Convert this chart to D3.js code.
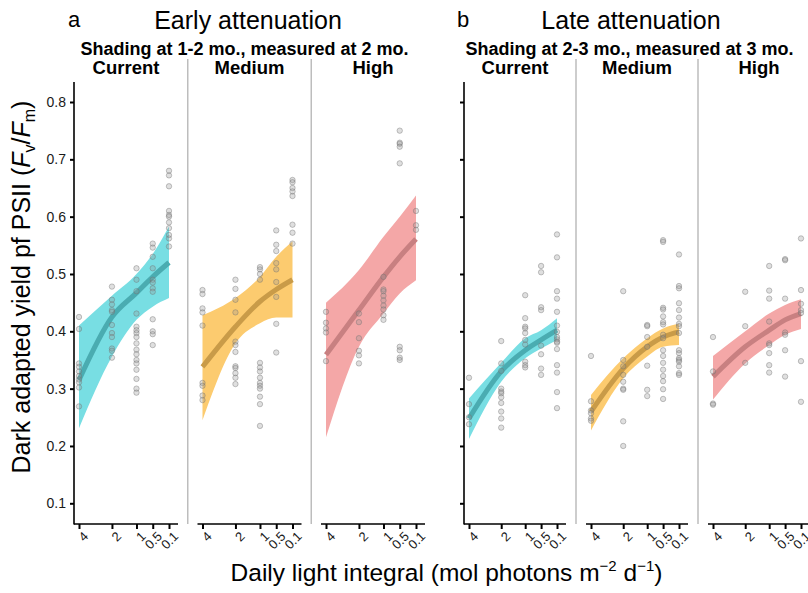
<!DOCTYPE html>
<html>
<head>
<meta charset="utf-8">
<script src="https://cdn.jsdelivr.net/npm/d3@7"></script>
<style>
  body { margin: 0; background: #fff; }
  svg { display: block; font-family: "Liberation Sans", Arial, Helvetica, sans-serif; }
</style>
</head>
<body>
<div id="chart"></div>
<script>
// DLI levels (mol photons m-2 d-1) and treatments
const dli = [4, 2, 1, 0.5, 0.1];
const treatments = ["Current", "Medium", "High"];
const ribbonColors = ["#78dee3", "#fccb6f", "#f4a7a7"];
const lineColors = ["#4aacb1", "#c99b48", "#c88081"];
const yTicks = [0.1, 0.2, 0.3, 0.4, 0.5, 0.6, 0.7, 0.8];

// fitted curve and confidence band at each DLI level, one row per treatment
const earlyFit = [[0.315, 0.425, 0.467, 0.495, 0.520], [0.338, 0.408, 0.452, 0.473, 0.490], [0.359, 0.437, 0.495, 0.530, 0.561]];
const earlyLo = [[0.231, 0.356, 0.420, 0.443, 0.458], [0.245, 0.379, 0.414, 0.424, 0.424], [0.215, 0.373, 0.431, 0.466, 0.489]];
const earlyHi = [[0.410, 0.462, 0.500, 0.535, 0.583], [0.428, 0.458, 0.495, 0.530, 0.557], [0.450, 0.507, 0.565, 0.600, 0.637]];
const lateFit = [[0.248, 0.330, 0.367, 0.385, 0.402], [0.260, 0.335, 0.373, 0.390, 0.399], [0.321, 0.373, 0.402, 0.420, 0.431]];
const lateLo = [[0.212, 0.312, 0.353, 0.370, 0.385], [0.227, 0.318, 0.356, 0.373, 0.376], [0.281, 0.344, 0.376, 0.394, 0.404]];
const lateHi = [[0.283, 0.345, 0.388, 0.402, 0.423], [0.289, 0.353, 0.388, 0.405, 0.413], [0.357, 0.400, 0.431, 0.446, 0.456]];

// raw Fv/Fm measurements: [treatment][DLI level] -> values
const earlyPts = [
  [[0.425, 0.404, 0.344, 0.338, 0.330, 0.322, 0.316, 0.311, 0.302, 0.269],
   [0.478, 0.455, 0.447, 0.437, 0.434, 0.411, 0.397, 0.390, 0.370, 0.366, 0.354],
   [0.510, 0.490, 0.470, 0.431, 0.408, 0.402, 0.397, 0.390, 0.379, 0.368, 0.360, 0.350, 0.344, 0.333, 0.317, 0.300, 0.293],
   [0.553, 0.546, 0.530, 0.510, 0.490, 0.485, 0.475, 0.469, 0.421, 0.400, 0.395, 0.376],
   [0.680, 0.672, 0.653, 0.610, 0.603, 0.600, 0.590, 0.580, 0.568, 0.562, 0.548]],
  [[0.472, 0.465, 0.440, 0.433, 0.410, 0.310, 0.305, 0.288, 0.280],
   [0.490, 0.474, 0.455, 0.433, 0.382, 0.376, 0.364, 0.339, 0.336, 0.327, 0.319, 0.308],
   [0.512, 0.508, 0.500, 0.490, 0.345, 0.337, 0.330, 0.319, 0.310, 0.305, 0.300, 0.286, 0.273, 0.235],
   [0.576, 0.551, 0.540, 0.519, 0.508, 0.486, 0.460, 0.413, 0.363],
   [0.664, 0.660, 0.650, 0.644, 0.636, 0.586, 0.572, 0.553]],
  [[0.434, 0.415, 0.405, 0.398, 0.348],
   [0.431, 0.416, 0.388, 0.366, 0.358, 0.344],
   [0.495, 0.473, 0.470, 0.462, 0.454, 0.445, 0.438, 0.428, 0.420],
   [0.750, 0.729, 0.727, 0.722, 0.693, 0.373, 0.367, 0.354, 0.350],
   [0.610, 0.585, 0.577]]
];
const latePts = [
  [[0.319, 0.273, 0.250, 0.238],
   [0.383, 0.344, 0.331, 0.300, 0.295, 0.292, 0.285, 0.275, 0.260, 0.248, 0.232],
   [0.463, 0.423, 0.408, 0.405, 0.397, 0.385, 0.377, 0.347, 0.341, 0.337],
   [0.514, 0.503, 0.442, 0.437, 0.375, 0.360, 0.335, 0.324],
   [0.569, 0.529, 0.470, 0.457, 0.434, 0.410, 0.399, 0.390, 0.386, 0.382, 0.380, 0.369, 0.341, 0.328, 0.294, 0.266]],
  [[0.357, 0.278, 0.262, 0.257, 0.248, 0.244],
   [0.470, 0.350, 0.339, 0.324, 0.312, 0.300, 0.298, 0.243, 0.200],
   [0.411, 0.409, 0.390, 0.373, 0.340, 0.298, 0.287],
   [0.559, 0.556, 0.441, 0.438, 0.426, 0.416, 0.412, 0.394, 0.388, 0.367, 0.357, 0.345, 0.333, 0.322, 0.313, 0.299, 0.282],
   [0.534, 0.479, 0.475, 0.449, 0.437, 0.424, 0.413, 0.409, 0.397, 0.367, 0.362, 0.353, 0.350, 0.347, 0.339, 0.327, 0.324]],
  [[0.390, 0.330, 0.274, 0.272],
   [0.469, 0.409, 0.345],
   [0.514, 0.471, 0.457, 0.417, 0.379, 0.376, 0.362, 0.341, 0.328],
   [0.526, 0.524, 0.457, 0.398, 0.394, 0.367, 0.321],
   [0.562, 0.472, 0.448, 0.437, 0.432, 0.348, 0.277]]
];

const groups = [
  {letter: "a", title: "Early attenuation", sub: "Shading at 1-2 mo., measured at 2 mo.",
   left: 74, panelW: 104, gap: 19.5, letterX: 68, titleX: 248, subX: 244.5,
   fit: earlyFit, lo: earlyLo, hi: earlyHi, pts: earlyPts, yLabels: true},
  {letter: "b", title: "Late attenuation", sub: "Shading at 2-3 mo., measured at 3 mo.",
   left: 464, panelW: 102, gap: 20, letterX: 457, titleX: 631, subX: 629.5,
   fit: lateFit, lo: lateLo, hi: lateHi, pts: latePts, yLabels: false}
];

const W = 808, H = 593;
const plotTop = 82, plotBottom = 524;

let svg = d3.select("#chart").append("svg")
    .attr("width", W)
    .attr("height", H);

let y = d3.scaleLinear().domain([0.1, 0.8]).range([503.3, 102]);

groups.forEach(g => drawGroup(g));

function drawGroup(grp) {
    // letter, title and subtitle
    svg.append("text").attr("x", grp.letterX).attr("y", 27)
        .attr("font-size", 22).text(grp.letter);
    svg.append("text").attr("x", grp.titleX).attr("y", 29)
        .attr("text-anchor", "middle").attr("font-size", 25).text(grp.title);
    svg.append("text").attr("x", grp.subX).attr("y", 55)
        .attr("text-anchor", "middle").attr("font-size", 18).attr("font-weight", "bold")
        .text(grp.sub);

    // y axis
    let yAxis = d3.axisLeft(y).tickValues(yTicks).tickSize(4).tickPadding(4)
        .tickFormat(grp.yLabels ? d3.format(".1f") : "");
    let ya = svg.append("g")
        .attr("transform", `translate(${grp.left}, 0)`)
        .call(yAxis);
    ya.select(".domain").remove();
    ya.selectAll(".tick line").attr("stroke", "#000").attr("stroke-width", 2);
    ya.selectAll(".tick text").attr("font-size", 14).attr("fill", "#1a1a1a");
    ya.append("line")
        .attr("x1", 0).attr("x2", 0).attr("y1", plotTop).attr("y2", plotBottom + 0.5)
        .attr("stroke", "#000").attr("stroke-width", 1.6);

    treatments.forEach((t, i) => {
        let px = grp.left + i * (grp.panelW + grp.gap);
        let x = d3.scaleSymlog().constant(1.5).domain([4, 0.1]).range([5, grp.panelW - 9]);
        let p = svg.append("g").attr("transform", `translate(${px}, 0)`);

        // separator between panels
        if (i > 0) {
            svg.append("line")
                .attr("x1", px - grp.gap / 2).attr("x2", px - grp.gap / 2)
                .attr("y1", 59).attr("y2", plotBottom)
                .attr("stroke", "#bdbdbd").attr("stroke-width", 1.5);
        }

        // strip label
        p.append("text")
            .attr("x", grp.panelW / 2).attr("y", 74)
            .attr("text-anchor", "middle").attr("font-size", 18.5).attr("font-weight", "bold")
            .text(t);

        let band = dli.map((d, k) => ({d: d, fit: grp.fit[i][k], lo: grp.lo[i][k], hi: grp.hi[i][k]}));

        p.append("path")
            .datum(band)
            .attr("fill", ribbonColors[i])
            .attr("d", d3.area().curve(d3.curveMonotoneX)
                .x(d => x(d.d)).y0(d => y(d.lo)).y1(d => y(d.hi)));

        p.append("path")
            .datum(band)
            .attr("fill", "none")
            .attr("stroke", lineColors[i])
            .attr("stroke-width", 5)
            .attr("d", d3.line().curve(d3.curveMonotoneX).x(d => x(d.d)).y(d => y(d.fit)));

        let pts = [];
        grp.pts[i].forEach((vals, k) => vals.forEach(v => pts.push({d: dli[k], v: v})));
        p.selectAll("circle.pt")
            .data(pts)
            .enter().append("circle")
            .attr("class", "pt")
            .attr("cx", d => x(d.d))
            .attr("cy", d => y(d.v))
            .attr("r", 2.7)
            .attr("fill", "rgba(150,150,150,0.3)")
            .attr("stroke", "rgba(110,110,110,0.5)")
            .attr("stroke-width", 0.8);

        // x axis
        let xa = p.append("g")
            .attr("transform", `translate(0, ${plotBottom})`)
            .call(d3.axisBottom(x).tickValues(dli).tickSize(5).tickFormat(""));
        xa.select(".domain").remove();
        xa.selectAll(".tick line").attr("stroke", "#000").attr("stroke-width", 2);
        xa.append("line").attr("x1", 0).attr("x2", grp.panelW)
            .attr("stroke", "#000").attr("stroke-width", 1.6);

        p.selectAll("text.xt")
            .data(dli)
            .enter().append("text")
            .attr("class", "xt")
            .attr("transform", d => `translate(${x(d) + 7}, 534) rotate(-45)`)
            .attr("text-anchor", "end")
            .attr("dy", "0.35em")
            .attr("font-size", 13)
            .attr("fill", "#1a1a1a")
            .text(d => d);
    });
}

// axis titles
let yl = svg.append("text")
    .attr("transform", "translate(30, 287) rotate(-90)")
    .attr("text-anchor", "middle")
    .attr("font-size", 25);
yl.append("tspan").text("Dark adapted yield pf PSII (");
yl.append("tspan").attr("font-style", "italic").text("F");
yl.append("tspan").attr("font-size", 16).attr("dy", 5).text("v");
yl.append("tspan").attr("dy", -5).text("/");
yl.append("tspan").attr("font-style", "italic").text("F");
yl.append("tspan").attr("font-size", 16).attr("dy", 5).text("m");
yl.append("tspan").attr("dy", -5).text(")");

let xl = svg.append("text")
    .attr("x", 446.5).attr("y", 581)
    .attr("text-anchor", "middle")
    .attr("font-size", 24.5);
xl.append("tspan").text("Daily light integral (mol photons m");
xl.append("tspan").attr("font-size", 15).attr("dy", -10).text("\u22122");
xl.append("tspan").attr("dy", 10).text(" d");
xl.append("tspan").attr("font-size", 15).attr("dy", -10).text("\u22121");
xl.append("tspan").attr("dy", 10).text(")");
</script>
</body>
</html>
